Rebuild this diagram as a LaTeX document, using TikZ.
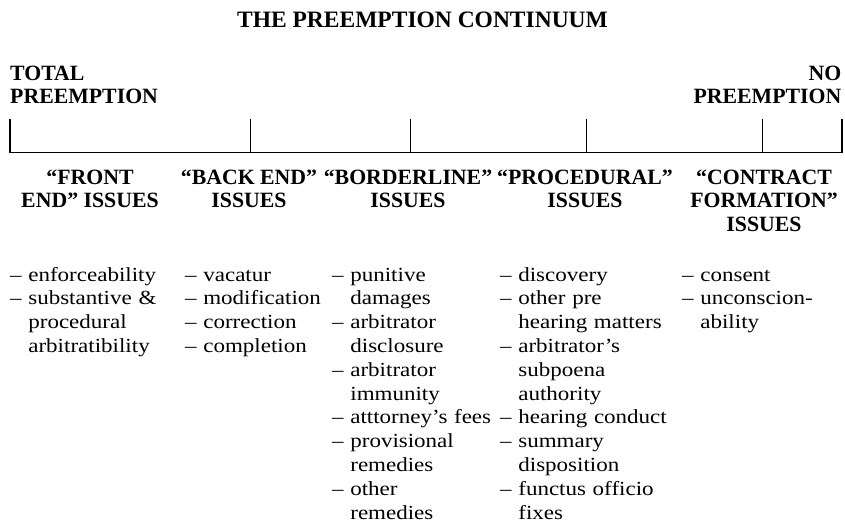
\documentclass[tikz,border=0pt]{standalone}
\usepackage{fontspec}
\setmainfont{Liberation Serif}[BoldFont={Liberation Serif Bold}]
\newfontfamily\headfont{Liberation Serif Bold}
\newfontfamily\bodyfont[FakeStretch=1.15]{Liberation Serif}
\newcommand\ci{\phantom{–\ }}
\begin{document}
\begin{tikzpicture}[x=1pt,y=-1pt,
  titlestyle/.style={font=\headfont\fontsize{23.5}{26}\selectfont, anchor=base, inner sep=0pt},
  endlabel/.style={font=\headfont\fontsize{21.8}{23.3}\selectfont, inner sep=0pt},
  head/.style={font=\headfont\fontsize{21.8}{23.8}\selectfont, align=center, anchor=north, inner sep=0pt},
  col/.style={font=\bodyfont\fontsize{20}{23.8}\selectfont, align=left, anchor=north west, inner sep=0pt, text width=190pt},
  scaleline/.style={line width=1.1pt, line cap=rect}]
\useasboundingbox (0,0) rectangle (845,523);

\node[titlestyle] (title) at (422.5,27.3) {THE PREEMPTION CONTINUUM};

\node[endlabel, align=left, anchor=north west] (total) at (10,64) {\strut TOTAL\\PREEMPTION};
\node[endlabel, align=right, anchor=north east] (none) at (841.5,64) {\strut NO\\PREEMPTION};

% scale
\foreach \i/\x in {0/10,1/250.5,2/410.5,3/586.7,4/762.7,5/842}{
  \coordinate (t\i) at (\x,120);
  \coordinate (b\i) at (\x,152.7);
}
\draw[scaleline] (b0) -- (b5);
\foreach \i in {0,...,5}{ \draw[scaleline] (t\i) -- (b\i); }

% headings
\node[head] (h1) at (90,167.3) {\strut“FRONT\\END” ISSUES};
\node[head] (h2) at (249,167.3) {\strut“BACK END”\\ISSUES};
\node[head] (h3) at (408,167.3) {\strut“BORDERLINE”\\ISSUES};
\node[head] (h4) at (585,167.3) {\strut“PROCEDURAL”\\ISSUES};
\node[head] (h5) at (764,167.3) {\strut“CONTRACT\\FORMATION”\\ISSUES};

% lists
\node[col] (c1) at (10,264.3) {\strut– enforceability\\– substantive \&\\\ci procedural\\\ci arbitratibility};
\node[col] (c2) at (185,264.3) {\strut– vacatur\\– modification\\– correction\\– completion};
\node[col] (c3) at (332,264.3) {\strut– punitive\\\ci damages\\– arbitrator\\\ci disclosure\\– arbitrator\\\ci immunity\\– atttorney’s fees\\– provisional\\\ci remedies\\– other\\\ci remedies};
\node[col] (c4) at (500,264.3) {\strut– discovery\\– other pre\\\ci hearing matters\\– arbitrator’s\\\ci subpoena\\\ci authority\\– hearing conduct\\– summary\\\ci disposition\\– functus officio\\\ci fixes};
\node[col] (c5) at (682,264.3) {\strut– consent\\– unconscion-\\\ci ability};
\end{tikzpicture}
\end{document}
